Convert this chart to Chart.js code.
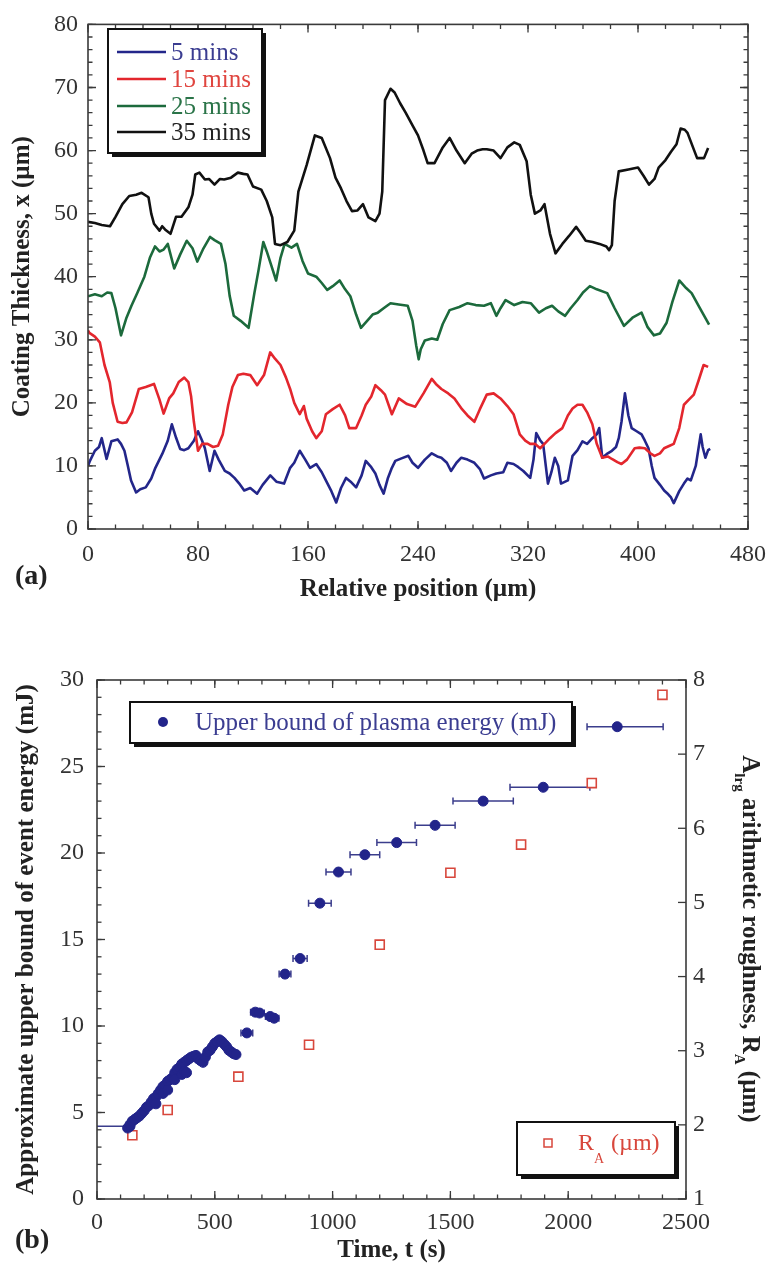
<!DOCTYPE html>
<html>
<head>
<meta charset="utf-8">
<script src="https://cdn.jsdelivr.net/npm/chart.js@4/dist/chart.umd.min.js"></script>
<style>
  html, body { margin: 0; padding: 0; background: #fff; }
  #wrap { position: relative; width: 777px; height: 1266px; overflow: hidden; }
  #c1 { position: absolute; left: 0; top: 0; }
  #c2 { position: absolute; left: 0; top: 615px; }
</style>
</head>
<body>
<div id="wrap">
  <canvas id="c1" width="777" height="615"></canvas>
  <canvas id="c2" width="777" height="651"></canvas>
</div>
<script>
// ---------- (a) coating thickness profiles ----------
const seriesNames = ['5 mins', '15 mins', '25 mins', '35 mins'];

const pos5 = [0, 1.4, 5, 8, 10, 13.5, 17, 21.6, 24, 26.5, 29, 31.3, 35, 38, 42, 46, 49, 54, 58, 61, 64, 67, 70, 73, 77, 80, 83, 85, 88.5, 92, 95, 99.5, 103, 106.5, 110, 113.6, 118, 123, 127, 132.6, 137, 142.6, 147, 150, 154, 158, 161.5, 166, 170, 173, 177, 180.5, 184, 187.7, 191, 195, 199, 202, 206, 209, 212, 215, 218, 221, 223.5, 228, 233, 236, 240, 245, 250, 254, 257, 261, 264, 268, 271.5, 276, 281, 285, 288, 293, 297, 302, 305, 309.5, 313, 316.6, 321.6, 324, 326, 329, 331, 334.5, 337, 339.5, 342, 344, 349, 352.4, 356, 359.6, 363, 366.8, 370, 371.8, 374, 378, 381, 384, 386, 388, 390.5, 393, 395.4, 399, 402.6, 405, 407.6, 410, 412, 416, 419, 422, 424, 426, 430, 433.4, 436, 438.4, 442, 445.6, 447, 449, 451, 452.5];
const thick5 = [10, 10.8, 12.4, 13, 14.4, 11.1, 13.9, 14.2, 13.5, 12.4, 10, 7.7, 5.8, 6.3, 6.6, 8, 9.7, 11.9, 14, 16.6, 14.5, 12.7, 12.5, 12.8, 14, 15.5, 14, 12.8, 9.2, 12.4, 11, 9.2, 8.8, 8.1, 7.2, 6.1, 6.5, 5.6, 7, 8.5, 7.5, 7.2, 9.7, 10.5, 12.4, 11, 9.7, 10.3, 9, 7.7, 6, 4.2, 6.5, 8.1, 7.5, 6.6, 8.5, 10.8, 9.8, 8.8, 7, 5.6, 8, 9.7, 10.8, 11.2, 11.6, 10.5, 9.7, 11, 12, 11.5, 11.3, 10.5, 9.2, 10.5, 11.3, 11, 10.5, 9.5, 8, 8.5, 8.8, 9, 10.5, 10.3, 9.8, 9.2, 8.1, 11, 15.2, 14, 13.5, 7.2, 9, 11.3, 10, 7.2, 7.7, 11.6, 12.5, 13.9, 13.5, 14.4, 15, 16, 11.3, 12, 12.4, 13, 14.4, 17, 21.5, 18, 16, 15.5, 15, 14, 12.8, 10, 8.1, 7, 6.1, 5.5, 5, 4.1, 6, 7.2, 8, 7.7, 10, 15, 13, 11.3, 12.5, 12.7];

const pos15 = [0, 1, 5, 8.6, 12, 15.8, 18, 21.5, 25, 28, 32, 37, 42, 48, 52, 55, 59, 62, 66, 70, 73, 75, 77, 80, 83, 87, 91, 94.6, 98, 102, 105, 109, 113, 118, 123, 128, 132.5, 136, 140, 144, 147, 150, 154, 157, 159, 163, 166, 170, 173, 178, 183, 187, 190, 195, 199, 202, 206, 209, 213, 216, 221, 226, 232, 238, 244, 250, 253, 257, 262, 266.5, 272, 276, 281, 285, 290, 295, 300, 305, 309.5, 314, 318, 321.6, 325, 328.8, 332, 336, 340, 345, 349, 352.4, 356, 359.6, 363, 366.8, 370, 374, 378, 381, 385, 388, 392, 397.6, 401, 405, 409, 412, 416, 419, 423, 426, 430, 433.4, 437, 440.6, 444, 447.7, 451];
const thick15 = [31.5, 31.1, 30.5, 29.6, 26, 23.3, 20, 17, 16.8, 16.9, 18.5, 22.2, 22.5, 23, 20.5, 18.3, 20.7, 21.5, 23.3, 24, 23.3, 21, 17, 12.4, 13.5, 13.5, 13, 13.2, 15, 19.7, 22.5, 24.4, 24.6, 24.4, 22.8, 24.4, 28, 27, 26, 24, 22.2, 20, 18.2, 19.5, 17.5, 15.5, 14.4, 15.5, 18.2, 19, 19.7, 18, 16, 16, 18, 19.7, 21, 22.8, 22, 21.3, 18.2, 20.7, 19.8, 19.4, 21.5, 23.8, 23, 22.2, 21.5, 20.7, 19, 18, 17, 19, 21.3, 21.5, 20.7, 19.5, 18.2, 15, 14, 13.5, 13.5, 12.8, 13.5, 14.4, 15.2, 16, 18, 19.1, 19.7, 19.7, 18.5, 16.6, 13.5, 11.3, 11.5, 11.1, 10.6, 10.3, 11, 12.8, 12.9, 12.8, 12, 11.6, 12, 12.8, 13.2, 13.5, 16, 19.7, 20.5, 21.3, 23.5, 26, 25.7];

const pos25 = [0, 5, 10, 14, 17, 20, 24, 28, 31.6, 36, 41, 45, 48.7, 52, 55, 58, 62.7, 67, 71.8, 76, 79.5, 84, 88.8, 92, 96.7, 100, 103, 106, 111, 116.8, 121, 124, 127.5, 130, 133, 136.8, 140, 143, 148, 152, 156, 160, 166, 170, 174, 178, 183, 187, 190.8, 195, 198.5, 203, 207, 210.8, 215, 220, 226, 232.5, 236, 238.7, 240.5, 242, 245, 250, 254, 258, 263, 270, 276, 282, 288, 293, 297, 300, 303.7, 310, 316, 322, 328, 333, 337.5, 342, 347, 351, 356, 360, 365, 370, 377.6, 383, 389.8, 396, 402.6, 407, 411.6, 416, 420.8, 425, 430, 435, 439, 445, 451.7];
const thick25 = [36.9, 37.2, 36.9, 37.5, 37.4, 35, 30.7, 33.5, 35.4, 37.5, 40, 43, 44.8, 44, 44.3, 45.2, 41.3, 43.5, 45.7, 44.5, 42.4, 44.5, 46.3, 45.8, 45.2, 42, 37, 33.8, 33, 31.9, 37.4, 41, 45.5, 44, 42, 39.4, 43, 45.2, 44.6, 45.2, 42.5, 40.5, 40, 39, 37.9, 38.5, 39.4, 38, 36.9, 34, 31.9, 33, 34, 34.3, 35, 35.8, 35.6, 35.4, 33, 29.1, 26.9, 28.5, 29.9, 30.2, 30, 32.5, 34.7, 35.2, 35.8, 35.5, 35.4, 35.8, 33.8, 35, 36.3, 35.5, 36, 35.8, 34.3, 35, 35.4, 34.5, 33.8, 35, 36.3, 37.5, 38.5, 38, 37.4, 35, 32.2, 33.5, 34.3, 32, 30.7, 31, 32.7, 36, 39.4, 38.2, 37.4, 35, 32.4];

const pos35 = [0, 5, 10, 16, 20, 25, 30, 35, 39, 44, 46, 48, 52, 54, 56, 60, 64, 68, 73, 76, 78, 81, 85, 88, 92, 96, 99, 104, 109, 113, 116, 120, 126, 130, 134, 136, 140, 145, 150, 153, 159, 165, 170, 176, 180, 184, 188, 192, 196, 200, 204, 209, 212, 214, 216, 220, 223, 227, 231, 236, 240, 244, 247, 252, 258, 263, 268, 274, 279, 283, 287, 290, 295, 300, 305, 310, 314, 319, 322, 325, 329, 332, 336, 340, 345, 350, 355, 358, 362, 367, 372, 377, 379, 381, 383, 386, 393, 400, 404, 408, 412, 415, 420, 424, 428, 431, 434, 436, 440, 443, 448, 451];
const thick35 = [48.7, 48.5, 48.2, 48, 49.5, 51.5, 52.8, 53, 53.3, 52.6, 50, 48.4, 47.3, 48, 47.5, 46.8, 49.5, 49.5, 51, 53, 56.2, 56.5, 55.4, 55.5, 54.6, 55.5, 55.4, 55.7, 56.5, 56.3, 56.2, 54.3, 53.8, 52, 49.4, 45.2, 45, 45.5, 47.3, 53.5, 57.7, 62.4, 62, 58.8, 55.7, 54, 52, 50.4, 50.5, 51.5, 49.4, 48.8, 50, 53.5, 68, 69.8, 69.2, 67.5, 66, 64, 62.4, 60, 58, 58, 60.5, 62, 60, 58, 59.5, 60, 60.2, 60.2, 60, 58.8, 60.5, 61.3, 60.9, 58.3, 53, 50, 50.5, 51.5, 46.8, 43.7, 45.2, 46.5, 47.9, 47, 45.7, 45.5, 45.2, 44.8, 44.2, 45, 52, 56.7, 57, 57.3, 56, 54.6, 55.5, 57.3, 58.5, 59.8, 61, 63.5, 63.3, 62.8, 60.5, 58.8, 58.8, 60.4];

const posTicks = [0, 80, 160, 240, 320, 400, 480];
const thickTicks = [0, 10, 20, 30, 40, 50, 60, 70, 80];

// ---------- (b) event energy and roughness ----------
const clusterTime = [130, 140, 150, 160, 170, 180, 190, 200, 210, 220, 230, 240, 250, 260, 270, 280, 290, 300, 310, 320, 330, 340, 350, 360, 370, 380, 390, 400, 410, 420, 430, 440, 450, 460, 470, 480, 490, 500, 510, 520, 530, 540, 550, 560, 570, 580, 590,
                     250, 280, 300, 330, 360, 370, 380];
const clusterEnergy = [4.1, 4.3, 4.5, 4.6, 4.7, 4.8, 4.95, 5.1, 5.3, 5.4, 5.6, 5.8, 5.9, 6.1, 6.3, 6.5, 6.6, 6.8, 6.9, 7.0, 7.3, 7.5, 7.6, 7.8, 7.9, 8.0, 8.1, 8.2, 8.25, 8.3, 8.1, 8.0, 7.9, 8.2, 8.5, 8.6, 8.8, 9.0, 9.1, 9.2, 9.1, 8.95, 8.8, 8.6, 8.5, 8.4, 8.35,
                       5.5, 6.1, 6.3, 6.9, 7.2, 7.4, 7.3];

const eventTime   = [140, 636, 672, 690, 735, 752, 798, 862, 946, 1025, 1137, 1272, 1435, 1639, 1894, 2208];
const eventEnergy = [4.2, 9.6, 10.8, 10.75, 10.55, 10.45, 13.0, 13.9, 17.1, 18.9, 19.9, 20.6, 21.6, 23.0, 23.8, 27.3];
const eventErrLo  = [140, 25, 20, 20, 20, 20, 25, 30, 48, 53, 63, 84, 85, 128, 141, 128];
const eventErrHi  = [0, 25, 20, 20, 20, 20, 25, 30, 48, 53, 63, 84, 85, 128, 198, 195];

const roughTime = [150, 300, 600, 900, 1200, 1500, 1800, 2100, 2400];
const roughRA   = [1.86, 2.2, 2.65, 3.08, 4.43, 5.4, 5.78, 6.61, 7.8];

const timeTicks = [0, 500, 1000, 1500, 2000, 2500];
const energyTicks = [0, 5, 10, 15, 20, 25, 30];
const roughTicks = [1, 2, 3, 4, 5, 6, 7, 8];

const legendEnergy = 'Upper bound of plasma energy (mJ)';

// ---------- shared styling ----------
const SERIF = '"Liberation Serif", "Times New Roman", Times, serif';
const INK = '#222';
const AXIS = '#3a3a3a';
const lineColors = ['#23268a', '#e3262d', '#1c6a3c', '#111111'];
const textColors = ['#3b3d91', '#e0453f', '#2a7448', '#222222'];
const BLUE_PT = '#22248a';
const RED_SQ = '#d8473c';

function pairs(xs, ys) { return xs.map((x, i) => ({ x, y: ys[i] })); }
const plain = v => String(v);

function shadowBox(ctx, x, y, w, h) {
  ctx.fillStyle = '#111';
  ctx.fillRect(x + 4, y + 4, w, h);
  ctx.fillStyle = '#fff';
  ctx.fillRect(x, y, w, h);
  ctx.strokeStyle = '#111';
  ctx.lineWidth = 2;
  ctx.strokeRect(x, y, w, h);
}

// frame around the plot area with inward major/minor tick marks
const axesDecor = {
  id: 'axesDecor',
  beforeDatasetsDraw(chart, args, o) {
    if (o.under) o.under(chart, chart.ctx);
  },
  afterDraw(chart, args, o) {
    const ctx = chart.ctx, a = chart.chartArea;
    ctx.save();
    ctx.strokeStyle = AXIS;
    ctx.lineWidth = 1.6;
    ctx.strokeRect(a.left, a.top, a.right - a.left, a.bottom - a.top);
    ctx.lineWidth = 1.3;
    for (const t of (o.marks || [])) {
      const s = chart.scales[t.scale];
      for (const [step, len] of [[t.minor, 4.5], [t.major, 8]]) {
        if (!step) continue;
        const n = Math.round((s.max - s.min) / step);
        for (let i = 0; i <= n; i++) {
          const p = s.getPixelForValue(s.min + i * step);
          ctx.beginPath();
          if (s.isHorizontal()) {
            if (t.sides.includes('bottom')) { ctx.moveTo(p, a.bottom); ctx.lineTo(p, a.bottom - len); }
            if (t.sides.includes('top')) { ctx.moveTo(p, a.top); ctx.lineTo(p, a.top + len); }
          } else {
            if (t.sides.includes('left')) { ctx.moveTo(a.left, p); ctx.lineTo(a.left + len, p); }
            if (t.sides.includes('right')) { ctx.moveTo(a.right, p); ctx.lineTo(a.right - len, p); }
          }
          ctx.stroke();
        }
      }
    }
    if (o.over) o.over(chart, ctx);
    ctx.restore();
  }
};

const tickFont = { family: SERIF, size: 24 };
const titleFont = { family: SERIF, size: 25, weight: 'bold' };

// ---------- chart (a) ----------
new Chart(document.getElementById('c1'), {
  type: 'line',
  data: {
    datasets: [
      { label: seriesNames[3], data: pairs(pos35, thick35), borderColor: lineColors[3] },
      { label: seriesNames[2], data: pairs(pos25, thick25), borderColor: lineColors[2] },
      { label: seriesNames[1], data: pairs(pos15, thick15), borderColor: lineColors[1] },
      { label: seriesNames[0], data: pairs(pos5, thick5), borderColor: lineColors[0] }
    ]
  },
  options: {
    responsive: false,
    animation: false,
    layout: { padding: { top: 18, right: 19, left: 0, bottom: 0 } },
    elements: { point: { radius: 0 }, line: { borderWidth: 2.6, tension: 0, borderJoinStyle: 'round' } },
    plugins: {
      legend: { display: false },
      tooltip: { enabled: false },
      axesDecor: {
        marks: [
          { scale: 'x', major: 80, minor: 20, sides: ['bottom', 'top'] },
          { scale: 'y', major: 10, minor: 2, sides: ['left', 'right'] }
        ],
        over(chart, ctx) {
          // legend box
          shadowBox(ctx, 108, 29, 154, 124);
          const rows = [52, 79, 106, 132];
          ctx.font = '25px ' + SERIF;
          ctx.textBaseline = 'middle';
          ctx.textAlign = 'left';
          for (let i = 0; i < 4; i++) {
            ctx.strokeStyle = lineColors[i];
            ctx.lineWidth = 2.6;
            ctx.beginPath();
            ctx.moveTo(117, rows[i]);
            ctx.lineTo(166, rows[i]);
            ctx.stroke();
            ctx.fillStyle = textColors[i];
            ctx.fillText(seriesNames[i], 171, rows[i] + 1);
          }
          // panel tag
          ctx.fillStyle = INK;
          ctx.font = 'bold 28px ' + SERIF;
          ctx.fillText('(a)', 15, 577);
        }
      }
    },
    scales: {
      x: {
        type: 'linear', min: 0, max: 480,
        afterFit(s) { s.height = 86; },
        afterBuildTicks(s) { s.ticks = posTicks.map(v => ({ value: v })); },
        ticks: { font: tickFont, color: '#333', padding: 11, maxRotation: 0, autoSkip: false, callback: plain },
        grid: { display: false, drawTicks: false },
        border: { display: false },
        title: { display: true, text: 'Relative position (µm)', font: titleFont, color: INK, padding: { top: 0, bottom: 10 } }
      },
      y: {
        type: 'linear', min: 0, max: 80,
        afterFit(s) { s.width = 88; },
        afterBuildTicks(s) { s.ticks = thickTicks.map(v => ({ value: v })); },
        ticks: { font: tickFont, color: '#333', padding: 10, autoSkip: false, callback: plain },
        grid: { display: false, drawTicks: false },
        border: { display: false },
        title: { display: true, text: 'Coating Thickness, x (µm)', font: titleFont, color: INK, padding: { top: 8, bottom: 0 } }
      }
    }
  },
  plugins: [axesDecor]
});

// ---------- chart (b) ----------
new Chart(document.getElementById('c2'), {
  type: 'scatter',
  data: {
    datasets: [
      { label: legendEnergy, data: pairs(clusterTime, clusterEnergy), yAxisID: 'y',
        pointStyle: 'circle', pointRadius: 5, backgroundColor: BLUE_PT, borderColor: BLUE_PT, borderWidth: 1 },
      { label: legendEnergy, data: pairs(eventTime, eventEnergy), yAxisID: 'y',
        pointStyle: 'circle', pointRadius: 5, backgroundColor: BLUE_PT, borderColor: BLUE_PT, borderWidth: 1 },
      { label: 'RA (µm)', data: pairs(roughTime, roughRA), yAxisID: 'y1',
        pointStyle: 'rect', pointRadius: 6.4, backgroundColor: '#fff', borderColor: RED_SQ, borderWidth: 1.6 }
    ]
  },
  options: {
    responsive: false,
    animation: false,
    layout: { padding: { top: 65, right: 0, left: 0, bottom: 0 } },
    plugins: {
      legend: { display: false },
      tooltip: { enabled: false },
      axesDecor: {
        marks: [
          { scale: 'x', major: 500, minor: 100, sides: ['bottom', 'top'] },
          { scale: 'y', major: 5, minor: 1, sides: ['left'] },
          { scale: 'y1', major: 1, minor: 0, sides: ['right'] }
        ],
        under(chart, ctx) {
          // horizontal time-window bars
          const xs = chart.scales.x, ys = chart.scales.y;
          ctx.save();
          ctx.strokeStyle = '#3b3d8c';
          ctx.lineWidth = 1.5;
          for (let i = 0; i < eventTime.length; i++) {
            const y = ys.getPixelForValue(eventEnergy[i]);
            const x0 = xs.getPixelForValue(eventTime[i] - eventErrLo[i]);
            const x1 = xs.getPixelForValue(eventTime[i] + eventErrHi[i]);
            ctx.beginPath();
            ctx.moveTo(x0, y); ctx.lineTo(x1, y);
            if (eventErrLo[i] > 0 && i > 0) { ctx.moveTo(x0, y - 3.5); ctx.lineTo(x0, y + 3.5); }
            if (eventErrHi[i] > 0) { ctx.moveTo(x1, y - 3.5); ctx.lineTo(x1, y + 3.5); }
            ctx.stroke();
          }
          ctx.restore();
        },
        over(chart, ctx) {
          // energy legend
          shadowBox(ctx, 130, 87, 442, 41);
          ctx.fillStyle = BLUE_PT;
          ctx.beginPath(); ctx.arc(163, 107, 5, 0, Math.PI * 2); ctx.fill();
          ctx.font = '25px ' + SERIF;
          ctx.textBaseline = 'middle';
          ctx.textAlign = 'left';
          ctx.fillStyle = '#3b3d91';
          ctx.fillText(legendEnergy, 195, 108);

          // roughness legend
          shadowBox(ctx, 517, 507, 158, 53);
          ctx.strokeStyle = RED_SQ; ctx.lineWidth = 1.5;
          ctx.strokeRect(544, 524, 8, 8);
          ctx.fillStyle = RED_SQ;
          ctx.font = '24px ' + SERIF;
          ctx.fillText('R', 578, 529);
          const w = ctx.measureText('R').width;
          ctx.font = '14px ' + SERIF;
          ctx.fillText('A', 578 + w, 544);
          const wa = ctx.measureText('A').width;
          ctx.font = '24px ' + SERIF;
          ctx.fillText(' (µm)', 578 + w + wa + 1, 529);

          // right axis title
          ctx.save();
          ctx.translate(749, 324);
          ctx.rotate(Math.PI / 2);
          ctx.fillStyle = INK;
          const big = 'bold 25px ' + SERIF, small = 'bold 15px ' + SERIF;
          const parts = [['A', big, 0], ['lrg', small, 10], [' arithmetic roughness, R', big, 0], ['A', small, 10], [' (µm)', big, 0]];
          let total = 0;
          for (const [t, f] of parts) { ctx.font = f; total += ctx.measureText(t).width; }
          let x = -total / 2;
          ctx.textBaseline = 'middle';
          for (const [t, f, dy] of parts) {
            ctx.font = f;
            ctx.fillText(t, x, dy);
            x += ctx.measureText(t).width;
          }
          ctx.restore();

          // panel tag
          ctx.fillStyle = INK;
          ctx.font = 'bold 28px ' + SERIF;
          ctx.textAlign = 'left';
          ctx.fillText('(b)', 15, 626);
        }
      }
    },
    scales: {
      x: {
        type: 'linear', min: 0, max: 2500,
        afterFit(s) { s.height = 67; },
        afterBuildTicks(s) { s.ticks = timeTicks.map(v => ({ value: v })); },
        ticks: { font: tickFont, color: '#333', padding: 9, maxRotation: 0, autoSkip: false, callback: plain },
        grid: { display: false, drawTicks: false },
        border: { display: false },
        title: { display: true, text: 'Time, t (s)', font: titleFont, color: INK, padding: { top: 0, bottom: 0 } }
      },
      y: {
        type: 'linear', position: 'left', min: 0, max: 30,
        afterFit(s) { s.width = 97; },
        afterBuildTicks(s) { s.ticks = energyTicks.map(v => ({ value: v })); },
        ticks: { font: tickFont, color: '#333', padding: 13, autoSkip: false, callback: plain },
        grid: { display: false, drawTicks: false },
        border: { display: false },
        title: { display: true, text: 'Approximate upper bound of event energy (mJ)', font: titleFont, color: INK, padding: { top: 12, bottom: 0 } }
      },
      y1: {
        type: 'linear', position: 'right', min: 1, max: 8,
        afterFit(s) { s.width = 91; },
        afterBuildTicks(s) { s.ticks = roughTicks.map(v => ({ value: v })); },
        ticks: { font: tickFont, color: '#333', padding: 7, autoSkip: false, callback: plain },
        grid: { display: false, drawTicks: false },
        border: { display: false }
      }
    }
  },
  plugins: [axesDecor]
});
</script>
</body>
</html>
